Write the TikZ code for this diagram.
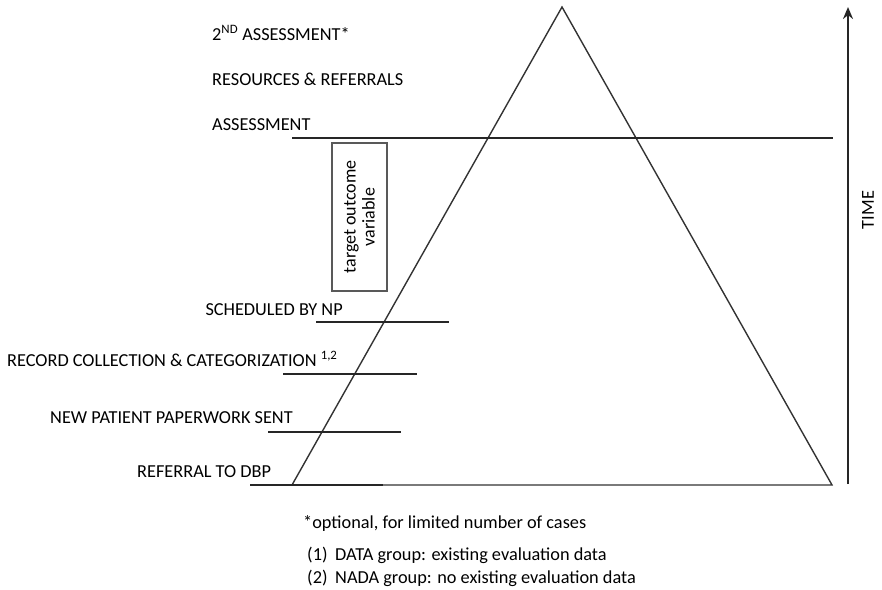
\documentclass[tikz,border=0pt]{standalone}
\usepackage{fontspec}
\setmainfont{Carlito}
\usetikzlibrary{arrows.meta}
\begin{document}
\begin{tikzpicture}[x=1pt,y=-1pt,
  lbl/.style={inner sep=0pt,font=\fontsize{18.3}{21}\selectfont},
  bar/.style={line width=2.8pt,black!85},
  tri/.style={line width=1.4pt,black!80,line join=miter},
  arr/.style={line width=2.6pt,black!85,-{Stealth[length=12pt,width=10pt]}}]
\useasboundingbox (0,0) rectangle (882,589);
% triangle
\coordinate (apex) at (562,7);
\coordinate (bl) at (292,485);
\coordinate (br) at (832,485);
\draw[tri] (apex) -- (bl) -- (br) -- cycle;
% horizontal bars
\coordinate (a1) at (292,138); \coordinate (a2) at (833,138);
\draw[bar] (a1) -- (a2);
\coordinate (s1) at (316,322); \coordinate (s2) at (449,322);
\draw[bar] (s1) -- (s2);
\coordinate (r1) at (283,374); \coordinate (r2) at (417,374);
\draw[bar] (r1) -- (r2);
\coordinate (n1) at (268,432); \coordinate (n2) at (401,432);
\draw[bar] (n1) -- (n2);
\coordinate (d1) at (250,485); \coordinate (d2) at (383,485);
\draw[bar] (d1) -- (d2);
% time arrow
\coordinate (t1) at (848,484); \coordinate (t2) at (848,7);
\draw[arr] (t1) -- (t2);
\node[lbl,rotate=90] (time) at (868,210) {TIME};
% target box
\node[draw=black!65,line width=1.2pt,rotate=90,minimum width=148pt,minimum height=55pt,inner sep=2pt,align=center,font=\fontsize{18}{19}\selectfont] (box) at (359.5,217) {target outcome\\variable};
% labels
\node[lbl,anchor=base west] (l2nd) at (212,40) {2\textsuperscript{ND} ASSESSMENT*};
\node[lbl,anchor=base west] (lres) at (212,85) {RESOURCES \& REFERRALS};
\node[lbl,anchor=base west] (lass) at (212,130) {ASSESSMENT};
\node[lbl,anchor=base east] (lsch) at (343,315) {SCHEDULED BY NP};
\node[lbl,anchor=base west] (lrec) at (7,366) {RECORD COLLECTION \& CATEGORIZATION \textsuperscript{1,2}};
\node[lbl,anchor=base west] (lnew) at (50,423) {NEW PATIENT PAPERWORK SENT};
\node[lbl,anchor=base west] (lref) at (137,477) {REFERRAL TO DBP};
% footnotes
\node[lbl,anchor=base west] (f0) at (303,528) {*optional, for limited number of cases};
\node[lbl,anchor=base west] (f1) at (307,560) {\makebox[28pt][l]{(1)}DATA group: existing evaluation data};
\node[lbl,anchor=base west] (f2) at (307,583) {\makebox[28pt][l]{(2)}NADA group: no existing evaluation data};
\end{tikzpicture}
\end{document}
